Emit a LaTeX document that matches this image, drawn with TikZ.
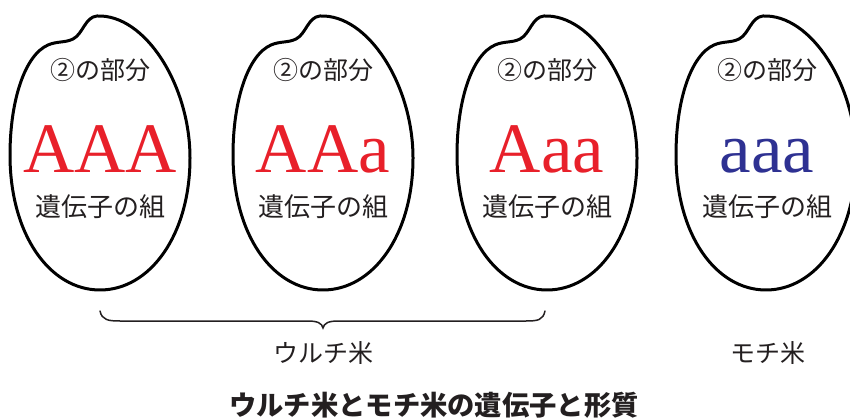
\documentclass[tikz,border=0pt]{standalone}
\usepackage{fontspec}
\newfontfamily\jp{Noto Sans CJK JP}
\newfontfamily\lat{Liberation Serif}
\definecolor{gred}{HTML}{E8202A}
\definecolor{gblue}{HTML}{2E3192}
\definecolor{ink}{HTML}{231F20}
\tikzset{
  grainline/.style={line width=3pt, draw=black, line join=round},
  part/.style={font=\jp\fontsize{25}{25}\selectfont, text=ink, inner sep=0pt},
  genes/.style={font=\lat\fontsize{71}{71}\selectfont, inner sep=0pt, anchor=base},
  pairlabel/.style={font=\jp\fontsize{26}{26}\selectfont, text=ink, inner sep=0pt},
  kind/.style={font=\jp\fontsize{25}{25}\selectfont, text=ink, inner sep=0pt},
  heading/.style={font=\jp\bfseries\fontsize{27.3}{28}\selectfont, text=ink, inner sep=0pt},
  bracket/.style={line width=1.5pt, draw=ink, line cap=round},
  grain/.pic={
    \draw[grainline] (-3,16)
      .. controls (45,14) and (90,85) .. (90,158)
      .. controls (90,235) and (50,290) .. (0,290)
      .. controls (-50,290) and (-90,235) .. (-90,155)
      .. controls (-90,100) and (-75,55) .. (-52,45)
      .. controls (-43,41) and (-35,43) .. (-27,39)
      .. controls (-17,34) and (-15,17) .. (-3,16) -- cycle;
  }
}
\begin{document}
\begin{tikzpicture}[x=1pt, y=-1pt]
\useasboundingbox (0,0) rectangle (850,419);

% rice grains
\pic at (100,0) {grain};
\pic at (323,0) {grain};
\pic at (547,0) {grain};
\pic at (766,0) {grain};

% labels inside each grain
\foreach \cx/\g/\c [count=\i] in {100/AAA/gred, 323/AAa/gred, 547/Aaa/gred, 767/aaa/gblue} {
  \node[part] (p\i) at (\cx,70) {②の部分};
  \node[genes, text=\c] (g\i) at (\cx,173) {\g};
  \node[pairlabel] (s\i) at (\cx,207) {遺伝子の組};
}

% brace under the first three grains
\coordinate (bl) at (100,311);
\coordinate (br) at (545,311);
\coordinate (bt) at (323,328);
\draw[bracket] (bl) .. controls (102,320) and (108,321) .. (120,321)
  -- (308,321) .. controls (317,321) and (322,323) .. (bt)
  .. controls (324,323) and (329,321) .. (338,321)
  -- (526,321) .. controls (538,321) and (543,320) .. (br);

\node[kind] (uruchi) at (323.5,353) {ウルチ米};
\node[kind] (mochi) at (768,353) {モチ米};

\node[heading] (title) at (434,405) {ウルチ米とモチ米の遺伝子と形質};
\end{tikzpicture}
\end{document}
